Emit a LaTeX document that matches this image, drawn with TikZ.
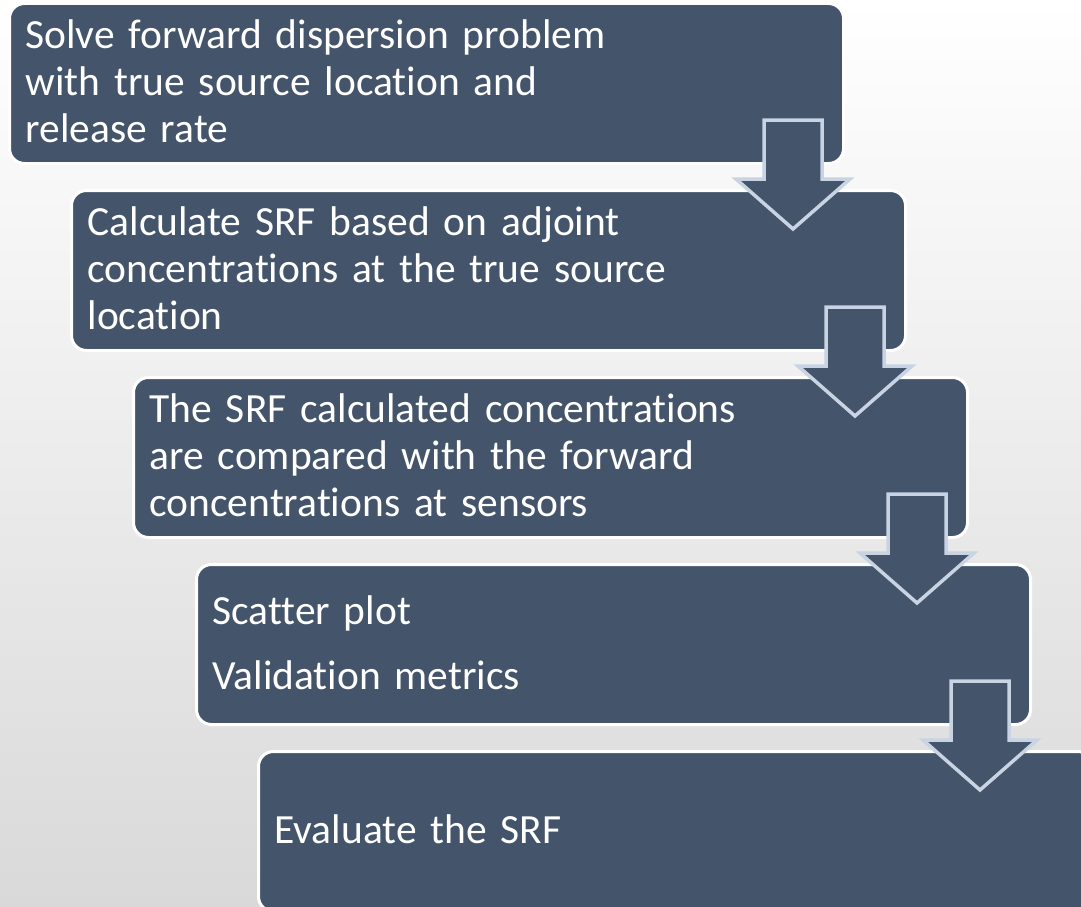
\documentclass[tikz,border=0pt]{standalone}
\usepackage{fontspec}
\setmainfont{Carlito}[Ligatures=NoCommon,WordSpace=0.85]
\usetikzlibrary{calc}

\definecolor{boxblue}{HTML}{44546A}
\definecolor{arrowedge}{RGB}{200,211,228}
\definecolor{bgbottom}{HTML}{D9D9D9}
\newcommand{\stepfont}{\fontsize{41.5}{47}\selectfont}
\newcommand{\stepstrut}{\rule[-11pt]{0pt}{46pt}}

\tikzset{
  stepbox/.style={draw=white,line width=3pt,fill=boxblue,rounded corners=15pt,
    minimum width=834pt,minimum height=160pt,text width=802pt,inner xsep=16pt,
    align=left,text=white,font=\stepfont,anchor=north west,
    execute at begin node=\stepstrut,execute at end node=\stepstrut},
  downarrow/.style={fill=boxblue,draw=arrowedge,line width=3.5pt,line join=miter}
}

\begin{document}
\begin{tikzpicture}[x=1pt,y=-1pt]
  \clip (0,0) rectangle (1081,907);
  \shade[top color=white,bottom color=bgbottom] (0,0) rectangle (1081,907);
  % steps
  \node[stepbox] (s1) at (8,2) {Solve forward dispersion problem\\with true source location and\\release rate};
  \node[stepbox] (s2) at (70,189) {Calculate SRF based on adjoint\\concentrations at the true source\\location};
  \node[stepbox] (s3) at (132,376) {The SRF calculated concentrations\\are compared with the forward\\concentrations at sensors};
  \node[stepbox] (s4) at (195,563) {Scatter plot\\[18pt]Validation metrics};
  \node[stepbox] (s5) at (257,750) {Evaluate the SRF};
  % arrows between the steps
  \foreach \a in {s1,s2,s3,s4}
    \draw[downarrow] ($(\a.south east)+(-81,-45)$) -- ++(58,0) -- ++(0,59) -- ++(28,0)
      -- ++(-57,50) -- ++(-57,-50) -- ++(28,0) -- cycle;
\end{tikzpicture}
\end{document}
